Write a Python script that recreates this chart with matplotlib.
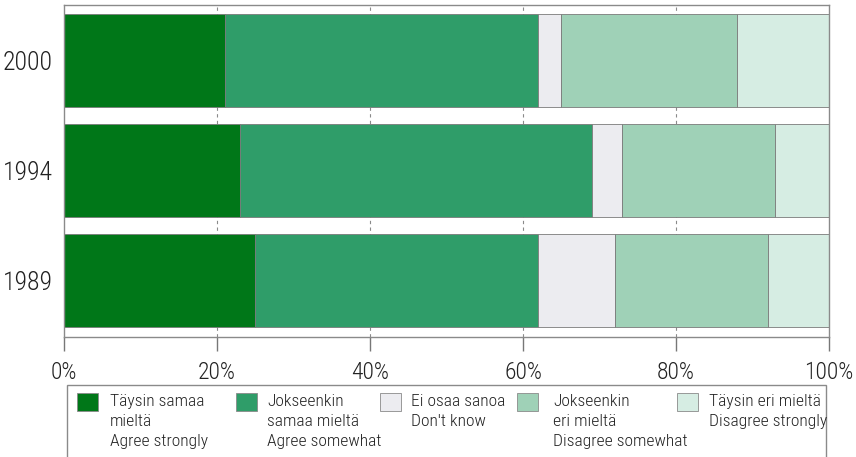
import numpy as np
import matplotlib.pyplot as plt
from matplotlib.patches import Rectangle

years = ['2000', '1994', '1989']
agree_strongly = [21, 23, 25]
agree_somewhat = [41, 46, 37]
dont_know = [3, 4, 10]
disagree_somewhat = [23, 20, 20]
disagree_strongly = [12, 7, 8]

series = [agree_strongly, agree_somewhat, dont_know, disagree_somewhat, disagree_strongly]
colors = ['#007718', '#2f9d69', '#ececf0', '#9fd1b7', '#d6ede3']
labels = ['Täysin samaa\nmieltä\nAgree strongly',
          'Jokseenkin\nsamaa mieltä\nAgree somewhat',
          'Ei osaa sanoa\nDon\'t know',
          'Jokseenkin\neri mieltä\nDisagree somewhat',
          'Täysin eri mieltä\nDisagree strongly']
xticks = [0, 20, 40, 60, 80, 100]

plt.rcParams['font.family'] = ['Roboto Condensed', 'Liberation Sans Narrow',
                               'Open Sans Condensed', 'Roboto']

fig = plt.figure(figsize=(8.56, 4.57), dpi=100)
ax = fig.add_axes([64 / 856, 1 - 337 / 457, (829 - 64) / 856, 332 / 457])

y = np.arange(len(years))
left = np.zeros(len(years))
for vals, c in zip(series, colors):
    ax.barh(y, vals, left=left, height=0.845, color=c, edgecolor='#7a7a7a',
            linewidth=0.6, zorder=2)
    left += np.array(vals)

ax.set_xlim(0, 100)
ax.set_ylim(2.51, -0.505)
ax.set_yticks(y)
ax.set_yticklabels(years, fontsize=18.5, color='#222222', fontweight='light')
ax.set_xticks(xticks)
ax.set_xticklabels([f'{t}%' for t in xticks], fontsize=17, color='#222222',
                   fontweight='light')
ax.tick_params(axis='y', length=0, pad=8)
ax.tick_params(axis='x', length=10, width=1, color='#777777', pad=7)
for sp in ax.spines.values():
    sp.set_color('#8a8a8a')
    sp.set_linewidth(1)
for t in xticks[1:-1]:
    ax.axvline(t, color='#8a8a8a', linewidth=0.8, linestyle=(0, (3, 3)), zorder=1)

# legend box
lg = fig.add_axes([0, 0, 1, 1], zorder=-1)
lg.set_xlim(0, 856)
lg.set_ylim(457, 0)
lg.axis('off')
lg.add_patch(Rectangle((67, 385), 759, 80, facecolor='white', edgecolor='#8a8a8a',
                       linewidth=1))
patch_x = [77, 236, 380, 517, 677]
text_x = [110, 267, 411, 553, 709]
for px, tx, c, lab in zip(patch_x, text_x, colors, labels):
    lg.add_patch(Rectangle((px, 393), 21, 18, facecolor=c, edgecolor='#8a8a8a',
                           linewidth=0.6))
    lg.text(tx, 394, lab, fontsize=12.6, color='#222222', va='top', ha='left',
            linespacing=1.4, fontweight='light')

fig.savefig('out.png', dpi=100)
